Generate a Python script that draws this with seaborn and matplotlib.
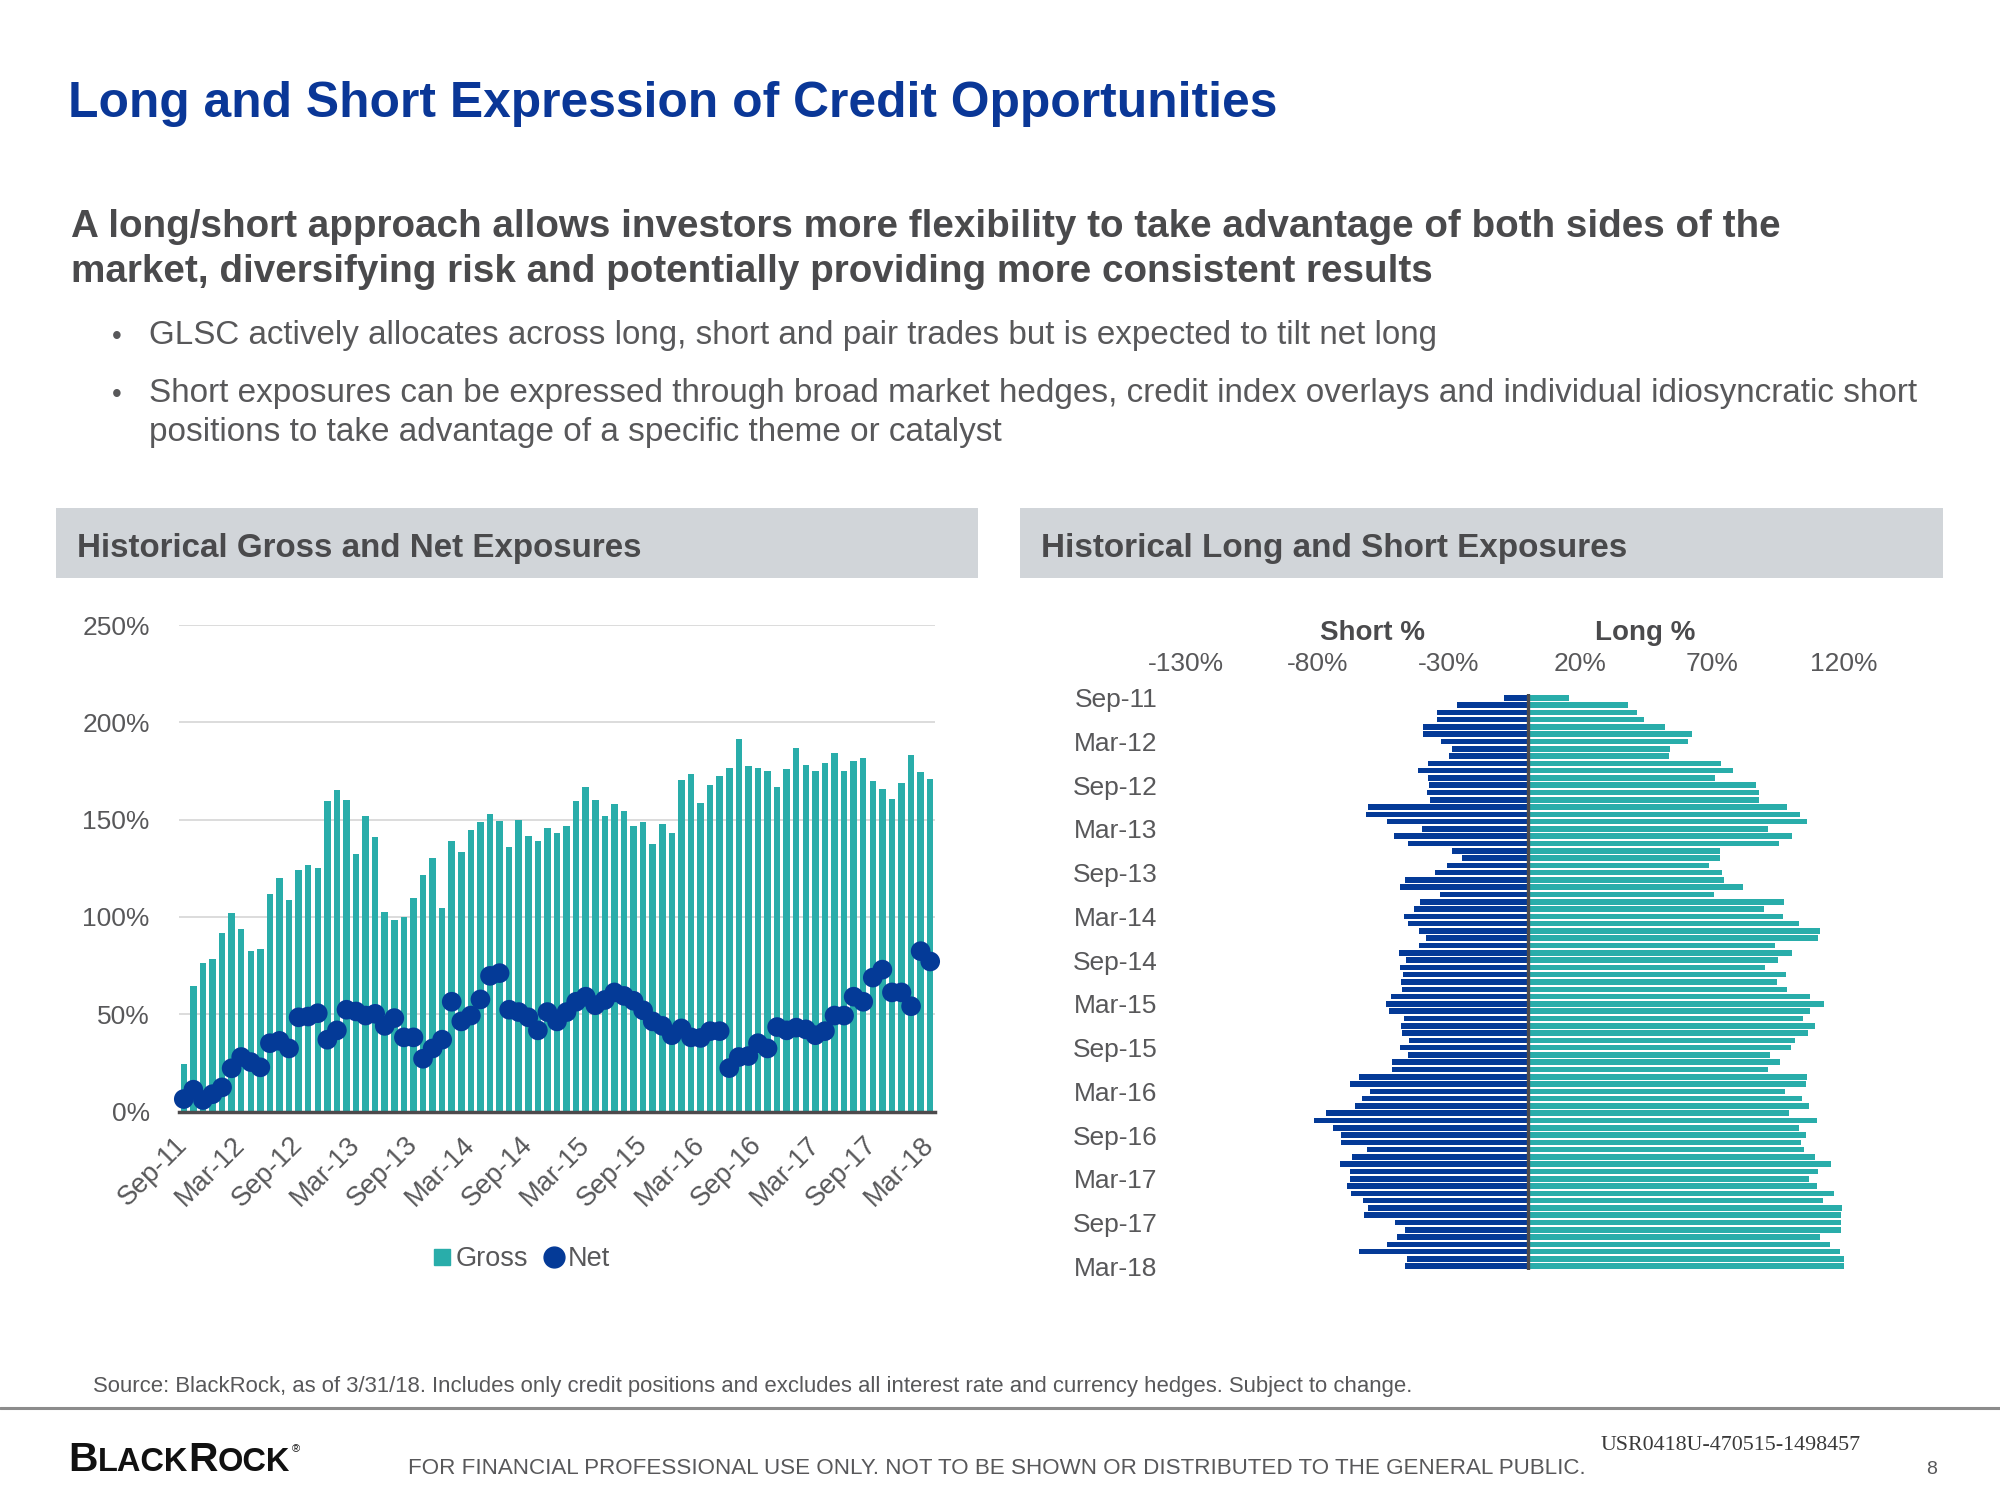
import numpy as np
import pandas as pd
import matplotlib
matplotlib.use("Agg")
import matplotlib.pyplot as plt
import seaborn as sns
from matplotlib import font_manager as fm
from matplotlib.lines import Line2D
from matplotlib.patches import Rectangle

# ---------------- data ----------------
months = pd.date_range("2011-09-01", "2018-03-01", freq="MS").strftime("%b-%y").tolist()
tick_labels = ["Sep-11", "Mar-12", "Sep-12", "Mar-13", "Sep-13", "Mar-14", "Sep-14",
               "Mar-15", "Sep-15", "Mar-16", "Sep-16", "Mar-17", "Sep-17", "Mar-18"]
yticks_left = [0, 50, 100, 150, 200, 250]
xticks_right = [-130, -80, -30, 20, 70, 120]

gross = [24.5, 64.7, 76.2, 78.5, 91.8, 102.1, 94.0, 82.6, 83.5, 111.7,
         120.0, 108.9, 124.3, 126.6, 125.2, 159.4, 165.1, 159.9, 132.1, 151.8,
         141.3, 102.3, 98.2, 100.2, 109.6, 121.5, 130.3, 104.4, 138.8, 133.3,
         144.5, 148.6, 152.8, 149.3, 135.8, 149.8, 141.5, 138.8, 145.9, 143.3,
         146.6, 159.8, 167.0, 160.3, 151.8, 157.8, 154.6, 146.6, 148.9, 137.6,
         147.9, 143.3, 170.6, 173.4, 158.3, 167.7, 172.5, 176.4, 191.3, 177.3,
         176.6, 174.8, 166.5, 176.2, 186.9, 178.2, 174.8, 179.1, 184.0, 174.8,
         180.3, 181.4, 170.0, 165.8, 160.8, 168.6, 183.3, 174.6, 171.1]

net = [6.4, 11.2, 5.9, 8.9, 12.4, 22.2, 28.0, 25.4, 22.7, 35.1,
       36.3, 32.4, 48.4, 48.8, 50.5, 36.9, 41.7, 52.3, 51.4, 49.3,
       50.2, 44.0, 48.0, 38.1, 38.1, 27.1, 32.4, 36.9, 56.4, 46.3,
       49.3, 57.6, 69.7, 71.1, 52.3, 51.1, 48.4, 41.7, 51.1, 46.3,
       51.1, 56.4, 59.0, 54.6, 57.3, 61.2, 59.4, 56.9, 52.0, 46.3,
       44.0, 39.2, 42.7, 38.1, 37.8, 41.3, 41.3, 22.3, 28.0, 28.5,
       35.1, 32.4, 43.4, 41.7, 43.1, 42.2, 39.2, 41.3, 49.3, 49.3,
       59.0, 56.4, 68.8, 72.9, 61.2, 61.2, 54.1, 82.4, 77.1]

short = [-9.0, -26.8, -34.6, -34.6, -39.7, -39.7, -33.1, -28.7, -29.9, -38.0,
         -41.8, -37.8, -37.4, -38.2, -37.1, -60.8, -61.4, -53.6, -40.3, -51.0,
         -45.6, -28.9, -25.0, -30.8, -35.2, -46.7, -48.4, -33.3, -41.1, -43.4,
         -47.2, -45.4, -41.5, -38.8, -41.5, -48.8, -46.1, -48.6, -47.5, -48.3,
         -47.8, -52.1, -54.0, -52.9, -46.9, -48.3, -47.8, -45.0, -48.4, -45.4,
         -51.7, -51.7, -64.0, -67.4, -59.8, -63.0, -65.5, -76.8, -81.1, -74.0,
         -70.9, -70.9, -61.0, -66.8, -71.2, -67.7, -67.4, -68.6, -67.1, -62.5,
         -60.6, -62.4, -50.5, -46.5, -49.7, -53.4, -64.1, -45.8, -46.7]

long_ = [15.7, 38.0, 41.4, 44.1, 52.3, 62.5, 60.9, 54.2, 53.7, 73.6,
         78.2, 71.0, 86.7, 88.1, 87.8, 98.5, 103.4, 106.1, 91.5, 100.5,
         95.6, 73.2, 73.2, 68.9, 74.0, 74.8, 81.9, 70.8, 97.6, 89.7,
         97.2, 103.0, 111.0, 110.3, 94.0, 100.5, 95.1, 90.2, 98.2, 94.7,
         98.7, 107.3, 112.5, 107.2, 104.8, 109.2, 106.6, 101.5, 100.2, 92.1,
         95.9, 91.3, 106.3, 105.7, 97.9, 104.3, 106.8, 99.4, 110.0, 103.0,
         105.7, 103.7, 105.2, 109.2, 115.2, 110.5, 107.0, 110.1, 116.5, 112.2,
         119.6, 119.1, 119.2, 119.2, 111.0, 114.9, 118.9, 120.4, 120.4]

# ---------------- style ----------------
sns.set_theme(style="white")
avail = {f.name for f in fm.fontManager.ttflist}
BASE = "Liberation Sans" if "Liberation Sans" in avail else "DejaVu Sans"
NARROW = "Liberation Sans Narrow" if "Liberation Sans Narrow" in avail else BASE
SERIF = "Liberation Serif" if "Liberation Serif" in avail else "DejaVu Serif"
plt.rcParams["font.family"] = [BASE, "DejaVu Sans"]

TEAL = "#29ADAA"
BLUE = "#043A97"
TITLE_BLUE = "#0A3797"
DARK = "#4A4A4C"
GRAY = "#58585A"
BOX = "#D1D5D9"

W, H = 2000, 1500
fig = plt.figure(figsize=(20, 15), dpi=100)
fig.patch.set_facecolor("white")
renderer = fig.canvas.get_renderer()


def px(x0, y0, x1, y1):
    return [x0 / W, 1 - y1 / H, (x1 - x0) / W, (y1 - y0) / H]


def fit_text(x, yb, s, width, size0=20, family=None, **kw):
    fam = [family or NARROW, "DejaVu Sans"]
    t = fig.text(x / W, 1 - yb / H, s, fontsize=size0, family=fam,
                 va="baseline", ha="left", **kw)
    bb = t.get_window_extent(renderer)
    t.set_fontsize(size0 * width / bb.width)
    return t


# ---------------- header texts ----------------
fit_text(68, 117, "Long and Short Expression of Credit Opportunities", 1207, 36,
         weight="bold", color=TITLE_BLUE)
fit_text(71, 237, "A long/short approach allows investors more flexibility to take advantage of both sides of the",
         1708, 26, weight="bold", color=DARK)
fit_text(71, 282, "market, diversifying risk and potentially providing more consistent results",
         1360, 26, weight="bold", color=DARK)
for yb in (344, 402):
    fig.text(112 / W, 1 - yb / H, "\u2022", fontsize=20, color=GRAY, va="baseline", ha="left",
             family=[BASE, "DejaVu Sans"])
fit_text(149, 344, "GLSC actively allocates across long, short and pair trades but is expected to tilt net long",
         1288, 20, color=GRAY)
fit_text(149, 402, "Short exposures can be expressed through broad market hedges, credit index overlays and individual idiosyncratic short",
         1764, 20, color=GRAY)
fit_text(149, 441, "positions to take advantage of a specific theme or catalyst", 850, 20, color=GRAY)

# panel header boxes
for (x0, x1) in ((56, 978), (1020, 1943)):
    fig.add_artist(Rectangle((x0 / W, 1 - 578 / H), (x1 - x0) / W, 70 / H,
                             transform=fig.transFigure, facecolor=BOX, edgecolor="none", zorder=0))
fit_text(77, 557, "Historical Gross and Net Exposures", 565, 20, weight="bold", color=DARK)
fit_text(1041, 557, "Historical Long and Short Exposures", 585, 20, weight="bold", color=DARK)

# ---------------- left chart ----------------
dfL = pd.DataFrame({"month": months, "gross": gross, "net": net})
axL = fig.add_axes(px(179, 625, 935, 1111.5))
sns.barplot(data=dfL, x="month", y="gross", color=TEAL, saturation=1, width=0.68,
            linewidth=0, ax=axL, zorder=2)
sns.scatterplot(x=np.arange(len(net)), y=dfL["net"], color=BLUE, s=200, linewidth=0,
                edgecolor="none", ax=axL, zorder=4, clip_on=False, legend=False)
axL.set_xlim(-0.5, len(months) - 0.5)
axL.set_ylim(0, 250)
axL.set_xlabel("")
axL.set_ylabel("")
axL.set_yticks(yticks_left)
axL.set_yticklabels([f"{v}%" for v in yticks_left], fontsize=19, color=GRAY)
axL.yaxis.grid(True, color="#D9D9D9", linewidth=1.3)
axL.xaxis.grid(False)
axL.set_axisbelow(True)
for side in ("top", "right", "left"):
    axL.spines[side].set_visible(False)
axL.spines["bottom"].set_color("#4D4A4C")
axL.spines["bottom"].set_linewidth(2.5)
axL.spines["bottom"].set_zorder(5)
axL.set_xticks(np.arange(0, len(months), 6))
axL.set_xticklabels(tick_labels, rotation=45, ha="right", va="center",
                    rotation_mode="anchor", fontsize=19.5, color=GRAY)
axL.tick_params(axis="x", length=0, pad=21)
axL.tick_params(axis="y", length=0, pad=21)
axL.set_facecolor("none")

handles = [Line2D([], [], marker="s", color=TEAL, ls="", markersize=11),
           Line2D([], [], marker="o", color=BLUE, ls="", markersize=15)]
fig.legend(handles, ["Gross", "Net"], loc="center", bbox_to_anchor=(520 / W, 1 - 1259 / H),
           ncol=2, frameon=False, handletextpad=0.05, columnspacing=0.5,
           handlelength=0.9, fontsize=19.5, labelcolor=GRAY)

# ---------------- right chart ----------------
dfR = pd.DataFrame({"month": months, "short": short, "long": long_})
axR = fig.add_axes(px(1170, 694.1, 1896, 1269.9))
sns.barplot(data=dfR, y="month", x="long", orient="h", color=TEAL, saturation=1,
            width=0.76, linewidth=0, ax=axR)
sns.barplot(data=dfR, y="month", x="short", orient="h", color=BLUE, saturation=1,
            width=0.76, linewidth=0, ax=axR)
axR.axvline(0, color="#4D4A4C", linewidth=2.4, zorder=5)
axR.set_xlim(-136, 140)
axR.set_ylim(len(months) - 0.5, -0.5)
axR.set_xlabel("")
axR.set_ylabel("")
axR.grid(False)
for side in axR.spines:
    axR.spines[side].set_visible(False)
axR.set_yticks(np.arange(0, len(months), 6))
axR.set_yticklabels(tick_labels, fontsize=19, color=GRAY)
axR.xaxis.tick_top()
axR.set_xticks(xticks_right)
axR.set_xticklabels([f"{v}%" for v in xticks_right], fontsize=19, color=GRAY)
axR.tick_params(axis="x", length=0, pad=13, top=True, bottom=False)
axR.tick_params(axis="y", length=0, pad=9)
axR.set_facecolor("none")

fig.text(1372 / W, 1 - 633 / H, "Short %", fontsize=20, weight="bold", color=DARK,
         ha="center", va="center", family=[NARROW, "DejaVu Sans"])
fig.text(1645 / W, 1 - 633 / H, "Long %", fontsize=20, weight="bold", color=DARK,
         ha="center", va="center", family=[NARROW, "DejaVu Sans"])

# ---------------- footer ----------------
fit_text(93, 1392, "Source: BlackRock, as of 3/31/18. Includes only credit positions and excludes all interest rate and currency hedges. Subject to change.",
         1329, 14, color=GRAY)
fig.add_artist(Line2D([0, 1], [1 - 1408 / H, 1 - 1408 / H], transform=fig.transFigure,
                      color="#8C8C8C", linewidth=2.2))
fit_text(408, 1474, "FOR FINANCIAL PROFESSIONAL USE ONLY. NOT TO BE SHOWN OR DISTRIBUTED TO THE GENERAL PUBLIC.",
         1180, 15, color=GRAY)
fit_text(1601, 1450, "USR0418U-470515-1498457", 261, 15, family=SERIF, color="#3A3A3A")
fig.text(1926 / W, 1 - 1474 / H, "8", fontsize=14, color=GRAY, va="baseline", ha="left")


def seq_text(x, yb, parts, scale):
    arts, cx = [], x
    for s, size in parts:
        t = fig.text(cx / W, 1 - yb / H, s, fontsize=size * scale, family=[NARROW, "DejaVu Sans"],
                     weight="bold", color="#111111", va="baseline", ha="left")
        cx = t.get_window_extent(renderer).x1
        arts.append(t)
    return arts, cx - x


logo_parts = [("B", 30), ("LACK", 24), ("R", 30), ("OCK", 24)]
arts, wlogo = seq_text(68, 1471, logo_parts, 1.0)
for a in arts:
    a.remove()
arts, wlogo = seq_text(68, 1471, logo_parts, 222 / wlogo)
fig.text((68 + wlogo + 2) / W, 1 - 1452 / H, "\u00ae", fontsize=8, color="#111111",
         va="baseline", ha="left")

fig.savefig("out.png", dpi=100, facecolor="white")
print(BASE, NARROW, SERIF)
